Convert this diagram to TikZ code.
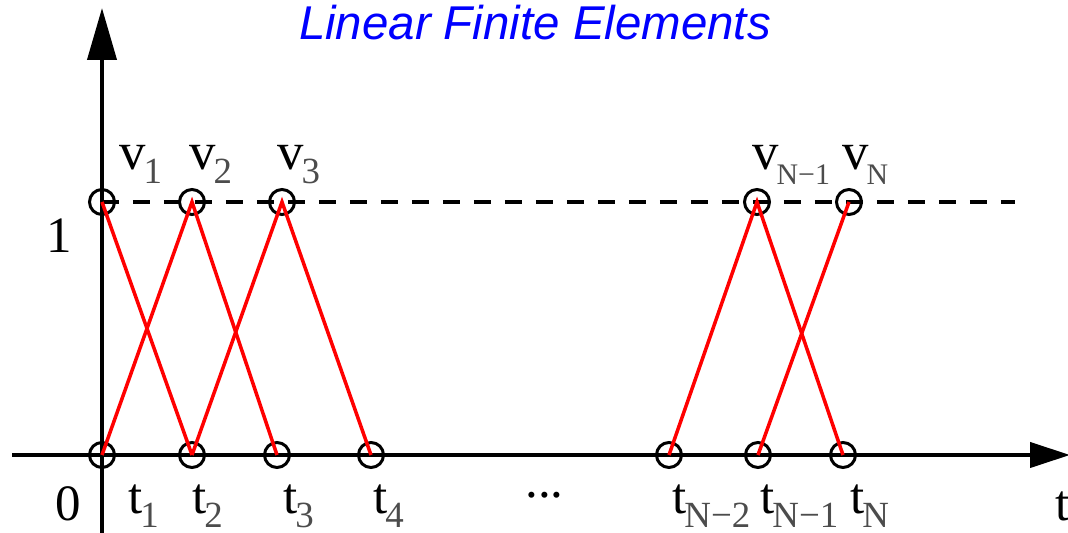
\documentclass[tikz,border=0pt]{standalone}
\usepackage{fontspec}
\setmainfont{Liberation Serif}
\newfontfamily\titlefont{Liberation Sans}
\usetikzlibrary{arrows.meta,positioning}
\definecolor{titleblue}{RGB}{0,0,255}
\newcommand{\lo}[1]{\kern-0.04em\raisebox{-0.27cm}{\color{black!70}\fontsize{21pt}{22pt}\selectfont #1}}
\newcommand{\lob}[1]{\kern-0.04em\raisebox{-0.3cm}{\color{black!70}\fontsize{17pt}{18pt}\selectfont #1}}

\begin{document}
\begin{tikzpicture}[
    x=0.02cm, y=0.02cm,
    knot/.style={
      circle,
      draw,
      line width=1.7pt,
      minimum size=0.5cm,
      inner sep=0pt
    },
    axis/.style={draw, line width=2.3pt},
    hat/.style={draw=red, line width=2pt},
    lab/.style={anchor=base west, inner sep=0pt, font=\fontsize{29pt}{30pt}\selectfont},
    vlab/.style={lab, font=\fontsize{30pt}{30pt}\selectfont},
]
    \useasboundingbox (0,0) rectangle (1068,533);

    \node [font=\titlefont\itshape\fontsize{27pt}{30pt}\selectfont, text=titleblue, anchor=base] (title) at (535,493) {Linear Finite Elements};

    % axes
    \coordinate (ybot) at (102,0);
    \coordinate (ytop) at (102,525);
    \coordinate (xleft) at (12,78);
    \coordinate (xright) at (1070,78);
    \coordinate (dashend) at (1015,331);
    \path [axis, -{Triangle[length=1.04cm,width=0.58cm]}] (ybot) -- (ytop);
    \path [axis, -{Triangle[length=0.8cm,width=0.5cm]}] (xleft) -- (xright);

    % grid points
    \node [knot] (t1) at (102,78) {};
    \node [knot] (t2) at (192,78) {};
    \node [knot] (t3) at (277,78) {};
    \node [knot] (t4) at (371,78) {};
    \node [knot] (tN2) at (669,78) {};
    \node [knot] (tN1) at (758,78) {};
    \node [knot] (tN) at (843,78) {};

    \node [knot] (v1) at (102,331) {};
    \node [knot] (v2) at (192,331) {};
    \node [knot] (v3) at (282,331) {};
    \node [knot] (vN1) at (757,331) {};
    \node [knot] (vN) at (849,331) {};

    \draw [line width=2.4pt, dash pattern=on 0.34cm off 0.28cm] (v1.center) -- (dashend);

    % hat functions
    \path [hat] (v1.center) -- (t2.center);
    \path [hat] (t1.center) -- (v2.center) -- (t3.center);
    \path [hat] (t2.center) -- (v3.center) -- (t4.center);
    \path [hat] (tN2.center) -- (vN1.center) -- (tN.center);
    \path [hat] (tN1.center) -- (vN.center);

    % labels
    \node [vlab] (lv1) at (119,363) {v\lo{1}};
    \node [vlab] (lv2) at (189,363) {v\lo{2}};
    \node [vlab] (lv3) at (277,363) {v\lo{3}};
    \node [vlab] (lvN1) at (752,363) {v\lob{N−1}};
    \node [vlab] (lvN) at (842,363) {v\lob{N}};

    \node [lab] (lt1) at (128,19) {t\lo{1}};
    \node [lab] (lt2) at (192,19) {t\lo{2}};
    \node [lab] (lt3) at (283,19) {t\lo{3}};
    \node [lab] (lt4) at (373,19) {t\lo{4}};
    \node [lab] (ltN2) at (672,19) {t\lo{N−2}};
    \node [lab] (ltN1) at (760,19) {t\lo{N−1}};
    \node [lab] (ltN) at (850,19) {t\lo{N}};
    \node [lab] (ldots) at (525,35) {...};

    \node [lab] (zero) at (55,12) {0};
    \node [lab] (one) at (46,280) {1};
    \node [lab] (taxis) at (1055,12) {t};
\end{tikzpicture}
\end{document}
